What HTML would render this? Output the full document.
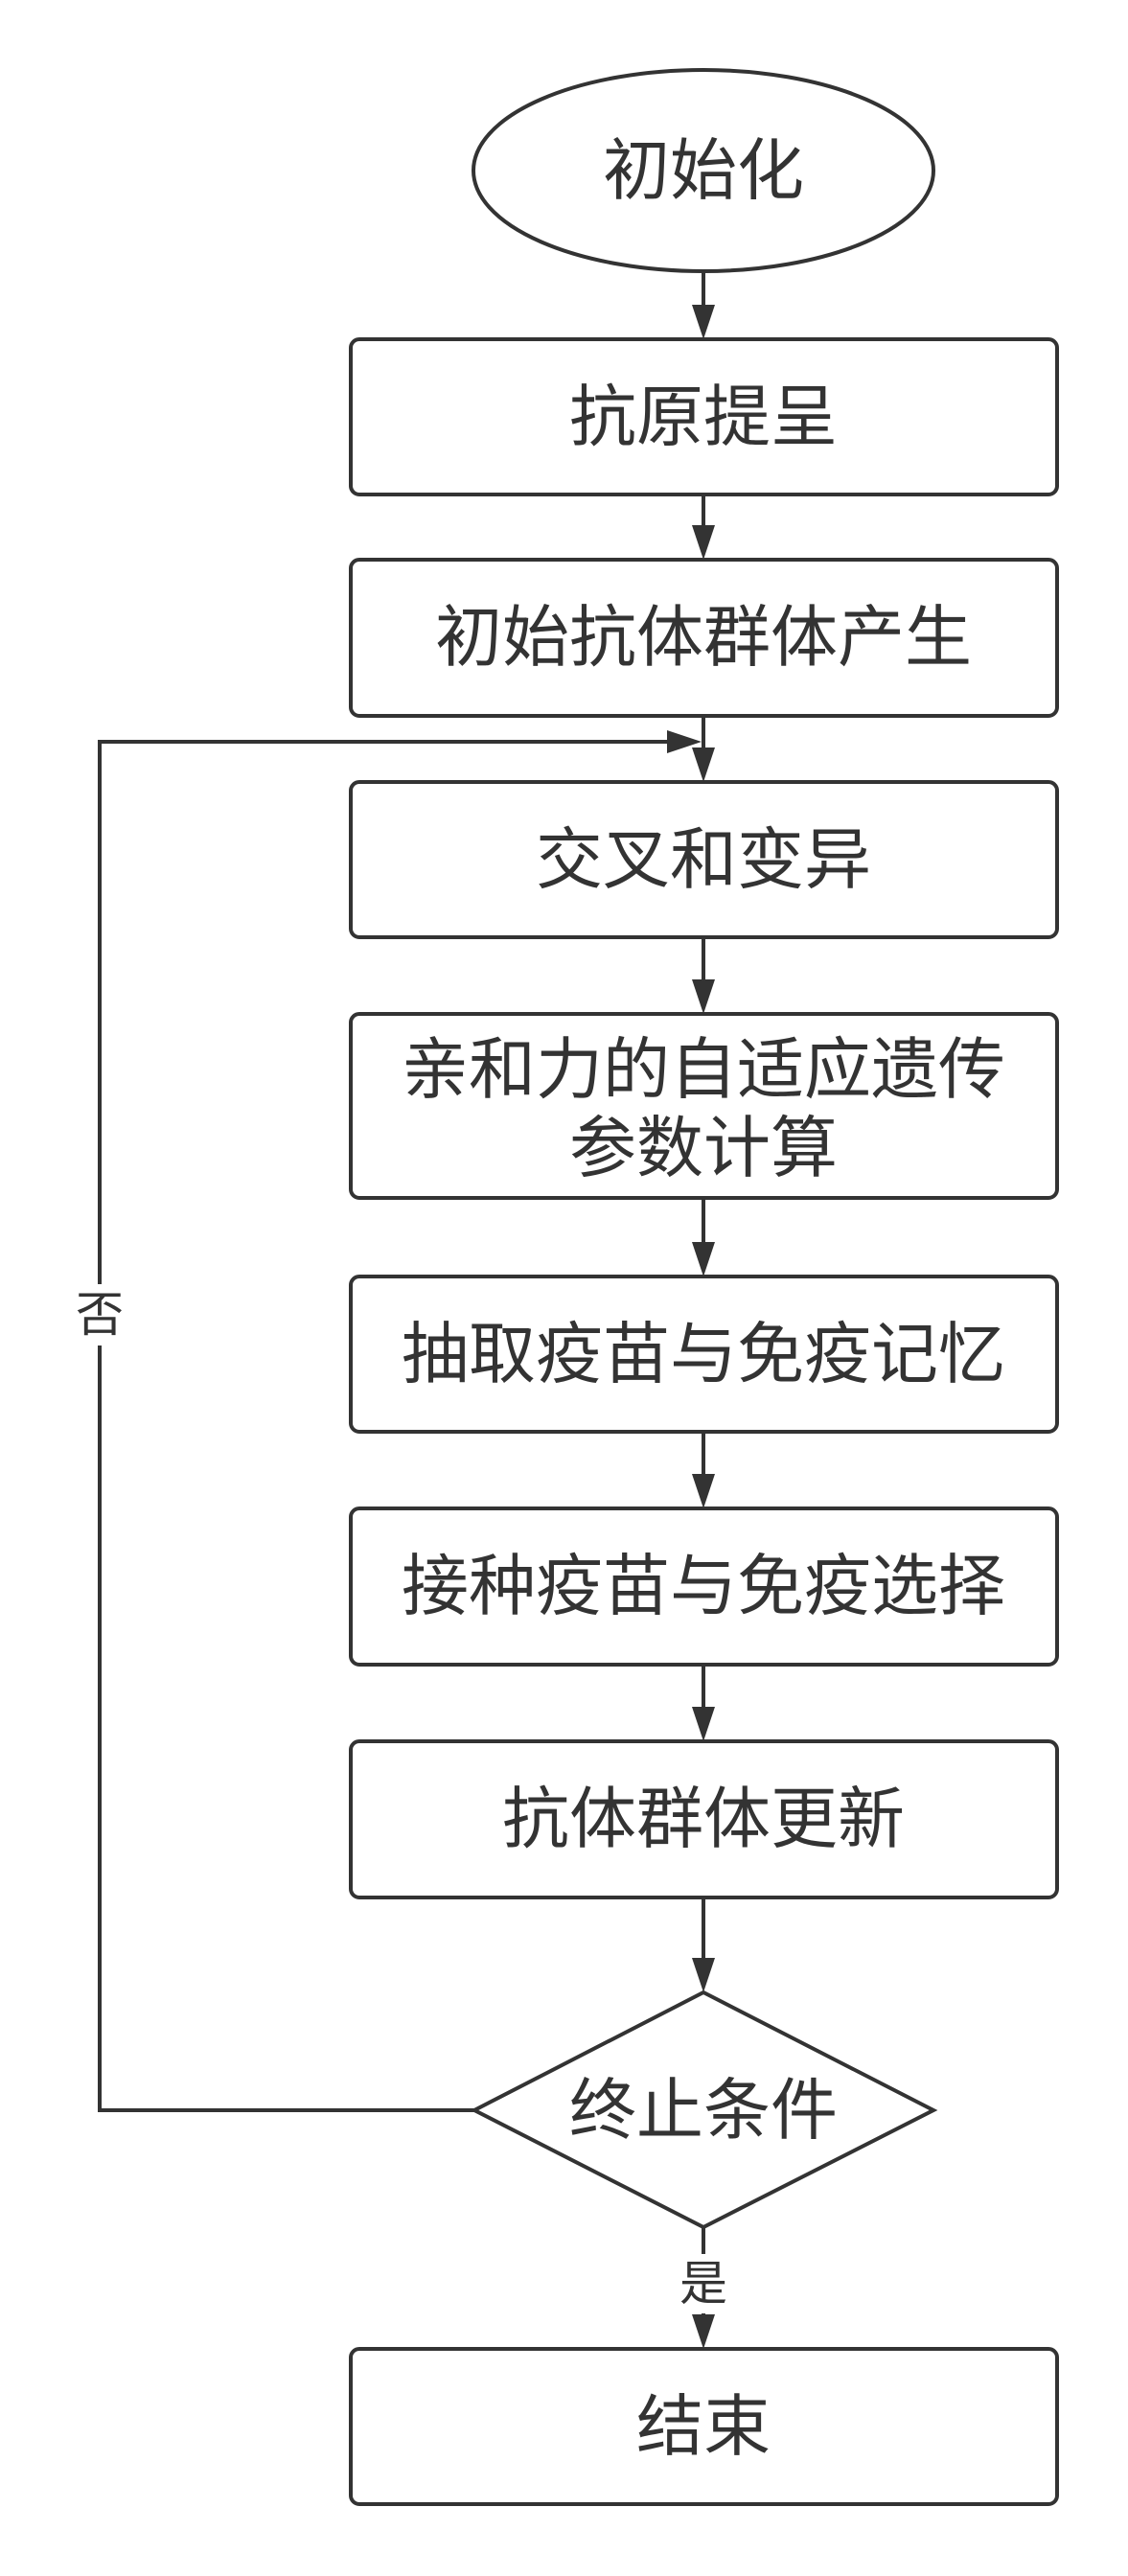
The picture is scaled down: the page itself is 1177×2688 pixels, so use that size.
<!DOCTYPE html>
<html><head><meta charset="utf-8"><style>
html,body{margin:0;padding:0;background:#fff}
svg{display:block}
text{font-family:"Liberation Sans","Noto Sans CJK SC",sans-serif;fill:#333;text-anchor:middle;dominant-baseline:central}
</style></head><body>
<svg width="1177" height="2688" viewBox="0 0 1177 2688" xmlns="http://www.w3.org/2000/svg">
<defs>
<marker id="a" markerWidth="10" markerHeight="10" refX="9" refY="5" orient="auto" markerUnits="userSpaceOnUse" viewBox="0 0 10 10">
</marker>
</defs>
<g stroke="#333" stroke-width="4" fill="none">
<ellipse cx="734" cy="178" rx="240" ry="105"/>
<rect x="366" y="354" width="737" height="162" rx="9"/>
<rect x="366" y="584" width="737" height="163" rx="9"/>
<rect x="366" y="816" width="737" height="162" rx="9"/>
<rect x="366" y="1058" width="737" height="192" rx="9"/>
<rect x="366" y="1332" width="737" height="162" rx="9"/>
<rect x="366" y="1574" width="737" height="163" rx="9"/>
<rect x="366" y="1817" width="737" height="163" rx="9"/>
<polygon points="734,2079 974,2202 734,2324 495,2202"/>
<rect x="366" y="2451" width="737" height="162" rx="9"/>
<line x1="734" y1="283" x2="734" y2="320"/>
<line x1="734" y1="516" x2="734" y2="550"/>
<line x1="734" y1="747" x2="734" y2="782"/>
<line x1="734" y1="978" x2="734" y2="1024"/>
<line x1="734" y1="1250" x2="734" y2="1298"/>
<line x1="734" y1="1494" x2="734" y2="1540"/>
<line x1="734" y1="1737" x2="734" y2="1783"/>
<line x1="734" y1="1980" x2="734" y2="2045"/>
<line x1="734" y1="2324" x2="734" y2="2417"/>
<polyline points="495,2202 104,2202 104,774 700,774"/>
</g>
<g fill="#333">
<polygon points="722,318 746,318 734,354"/>
<polygon points="722,548 746,548 734,584"/>
<polygon points="722,780 746,780 734,816"/>
<polygon points="722,1022 746,1022 734,1058"/>
<polygon points="722,1296 746,1296 734,1332"/>
<polygon points="722,1538 746,1538 734,1574"/>
<polygon points="722,1781 746,1781 734,1817"/>
<polygon points="722,2043 746,2043 734,2079"/>
<polygon points="722,2415 746,2415 734,2451"/>
<polygon points="696,762 696,786 732,774"/>
</g>
<rect x="80" y="1340" width="48" height="64" fill="#fff"/>
<rect x="706" y="2352" width="56" height="62" fill="#fff"/>
<g font-size="70">
<text x="734" y="178">初始化</text>
<text x="734" y="435">抗原提呈</text>
<text x="734" y="665">初始抗体群体产生</text>
<text x="734" y="897">交叉和变异</text>
<text x="734" y="1116">亲和力的自适应遗传</text>
<text x="734" y="1198">参数计算</text>
<text x="734" y="1413">抽取疫苗与免疫记忆</text>
<text x="734" y="1655">接种疫苗与免疫选择</text>
<text x="734" y="1898">抗体群体更新</text>
<text x="734" y="2202">终止条件</text>
<text x="734" y="2532">结束</text>
</g>
<g font-size="50">
<text x="104" y="1372">否</text>
<text x="734" y="2383">是</text>
</g>
</svg>
</body></html>
